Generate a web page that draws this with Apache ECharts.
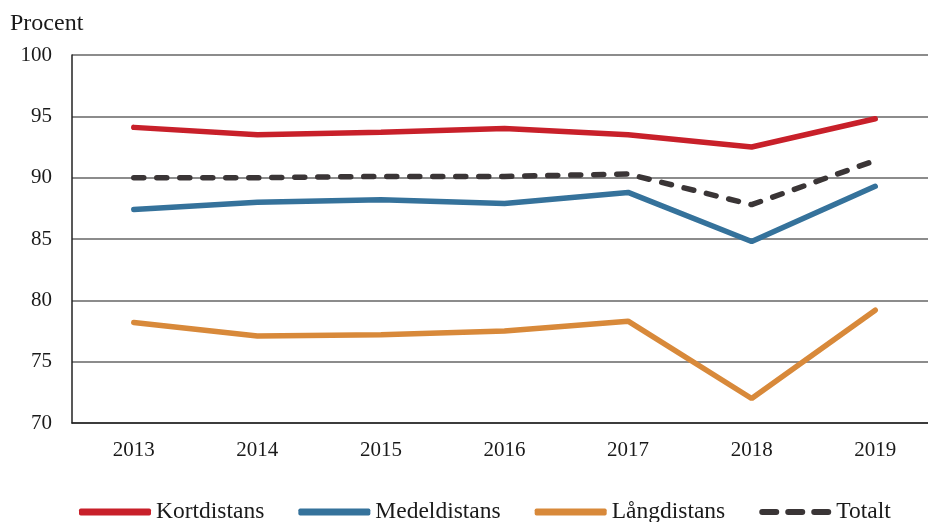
<!DOCTYPE html>
<html>
<head>
	<meta charset="utf-8">
	<title>Procent per distans</title>
	<script src="https://cdn.jsdelivr.net/npm/echarts@6/dist/echarts.min.js"></script>
</head>
<body style="margin:0">
	<div id="main" style="width: 928px;height: 522px;"></div>
</body>
<script type="text/javascript">
	var years = ['2013', '2014', '2015', '2016', '2017', '2018', '2019'];
	var kortdistans = [94.1, 93.5, 93.7, 94.0, 93.5, 92.5, 94.8];
	var medeldistans = [87.4, 88.0, 88.2, 87.9, 88.8, 84.8, 89.3];
	var langdistans = [78.2, 77.1, 77.2, 77.5, 78.3, 72.0, 79.2];
	var totalt = [90.0, 90.0, 90.1, 90.1, 90.3, 87.8, 91.4];

	var font = 'Liberation Serif';
	var myChart = echarts.init(document.getElementById('main'));

	// legendikon for den streckade serien
	var dashIcon = 'path://M3,0 H17 A3,3 0 0 1 17,6 H3 A3,3 0 0 1 3,0 Z ' +
		'M29,0 H43 A3,3 0 0 1 43,6 H29 A3,3 0 0 1 29,0 Z ' +
		'M55,0 H69 A3,3 0 0 1 69,6 H55 A3,3 0 0 1 55,0 Z';

	function line(name, data, color, dashed) {
		return {
			name: name,
			type: 'line',
			data: data,
			symbol: 'none',
			color: color,
			lineStyle: {
				width: 5.5,
				color: color,
				cap: 'round',
				type: dashed ? [10, 13] : 'solid'
			}
		};
	}

	var option = {
		animation: false,
		textStyle: { fontFamily: font },
		title: {
			text: 'Procent',
			left: 5,
			top: 7,
			textStyle: { fontFamily: font, fontSize: 24, fontWeight: 'normal', color: '#1a1a1a' }
		},
		grid: { left: 72, width: 865, top: 55, bottom: 99, outerBoundsMode: 'none' },
		legend: {
			top: 495,
			left: 74,
			itemWidth: 72,
			itemHeight: 7,
			itemGap: 34,
			textStyle: { fontFamily: font, fontSize: 23.5, color: '#1a1a1a' },
			data: [
				{ name: 'Kortdistans', icon: 'roundRect' },
				{ name: 'Medeldistans', icon: 'roundRect' },
				{ name: 'Långdistans', icon: 'roundRect' },
				{ name: 'Totalt', icon: dashIcon }
			]
		},
		xAxis: {
			type: 'category',
			data: years,
			axisLine: { lineStyle: { color: '#222', width: 1.5 } },
			axisTick: { show: false },
			axisLabel: { fontFamily: font, fontSize: 21, color: '#1a1a1a', margin: 17 }
		},
		yAxis: {
			type: 'value',
			min: 70,
			max: 100,
			interval: 5,
			axisLine: { show: true, lineStyle: { color: '#222', width: 1.5 } },
			axisTick: { show: false },
			axisLabel: { fontFamily: font, fontSize: 21, color: '#1a1a1a', margin: 20 },
			splitLine: { lineStyle: { color: '#666', width: 1.5 } }
		},
		series: [
			line('Kortdistans', kortdistans, '#c8202a', false),
			line('Medeldistans', medeldistans, '#35729b', false),
			line('Långdistans', langdistans, '#d8893a', false),
			line('Totalt', totalt, '#3a3536', true)
		]
	};
	myChart.setOption(option);
</script>
</html>
